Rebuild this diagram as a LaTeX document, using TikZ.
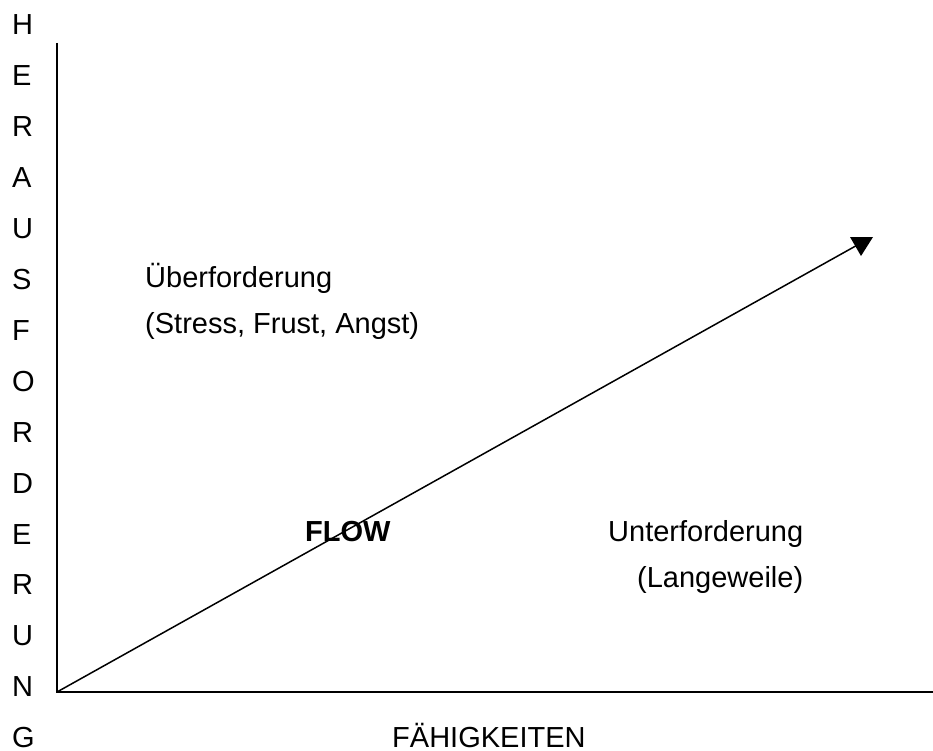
\documentclass[tikz,border=0pt]{standalone}
\usepackage{fontspec}
\setmainfont{Liberation Sans}
\begin{document}
\begin{tikzpicture}[x=1pt,y=-1pt,
  lbl/.style={anchor=base west,inner sep=0pt,font=\fontsize{29}{35}\selectfont},
  axis/.style={line width=1.6pt},
  flowline/.style={line width=1.5pt}]
\useasboundingbox (0,0) rectangle (933,751);
% vertical label letters
\foreach \ch [count=\i from 0] in {H,E,R,A,U,S,F,O,R,D,E,R,U,N,G}{
  \node[lbl] (v\i) at (12,35+50.9*\i) {\ch};
}
% axes
\coordinate (o) at (57,692);
\coordinate (ytop) at (57,43);
\coordinate (xend) at (933,692);
\draw[axis] (ytop) -- (o) -- (xend);
% flow arrow
\coordinate (tip) at (861,243);
\draw[flowline] (o) -- (tip);
\fill (850,237) -- (873,237) -- (861,256) -- cycle;
% texts
\node[lbl] (ueber) at (145,287) {Überforderung};
\node[lbl] (stress) at (145,333) {(Stress, Frust, Angst)};
\node[lbl,font=\fontsize{29}{35}\selectfont\bfseries] (flow) at (305,541) {FLOW};
\node[lbl] (unter) at (608,541) {Unterforderung};
\node[lbl] (lang) at (637,587) {(Langeweile)};
\node[lbl] (faehig) at (392,747) {FÄHIGKEITEN};
\end{tikzpicture}
\end{document}
